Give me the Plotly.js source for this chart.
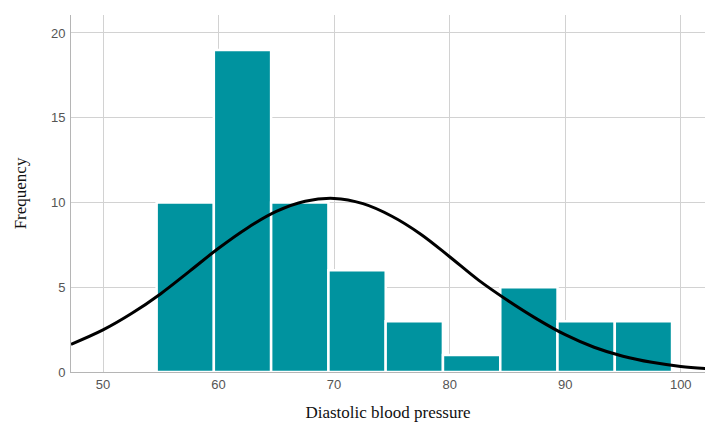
<!DOCTYPE html>
<html>
<head>
<meta charset="utf-8">
<script src="https://cdn.plot.ly/plotly-3.0.1.min.js"></script>
<style>html,body{margin:0;padding:0;background:#fff;}#chart{width:705px;height:424px;}</style>
</head>
<body>
<div id="chart"></div>
<script>
// Histogram bins (Diastolic blood pressure)
const binCenters = [57.12, 62.07, 67.03, 71.99, 76.94, 81.90, 86.86, 91.81, 96.77];
const binWidth = 4.957;
const counts = [10, 19, 10, 6, 3, 1, 5, 3, 3];

// Normal curve, values
const curveX = [47.23, 50, 52.5, 55, 57.5, 60, 62.5, 65, 67.5, 70, 72.5, 75, 77.5, 80, 82.5, 85, 87.5, 90, 92.5, 95, 97.5, 100, 102.5];
const curveY = [1.63, 2.48, 3.46, 4.62, 5.95, 7.3, 8.5, 9.47, 10.07, 10.24, 9.93, 9.19, 8.13, 6.8, 5.42, 4.23, 3.15, 2.2, 1.46, 0.93, 0.57, 0.33, 0.19];

const xTicks = [50, 60, 70, 80, 90, 100];
const yTicks = [0, 5, 10, 15, 20];

const traces = [
  {
    type: 'bar',
    x: binCenters,
    y: counts,
    width: binCenters.map(() => binWidth),
    marker: {color: '#00939f', line: {color: '#ffffff', width: 2.5}},
    hoverinfo: 'x+y',
    showlegend: false
  },
  {
    type: 'scatter',
    mode: 'lines',
    x: curveX,
    y: curveY,
    line: {color: '#000000', width: 3, shape: 'spline', smoothing: 1},
    showlegend: false,
    cliponaxis: true
  }
];

const layout = {
  width: 705,
  height: 424,
  margin: {l: 71, r: 0, t: 15, b: 52},
  paper_bgcolor: '#ffffff',
  plot_bgcolor: '#ffffff',
  showlegend: false,
  bargap: 0,
  xaxis: {
    range: [47.23, 102.1],
    tickvals: xTicks,
    ticktext: xTicks.map(String),
    showgrid: true,
    gridcolor: '#d2d2d2',
    gridwidth: 1,
    zeroline: false,
    showline: true,
    linecolor: '#b5b5b5',
    linewidth: 1,
    ticks: '',
    tickfont: {family: 'Liberation Sans, Arial, sans-serif', size: 13, color: '#555555'},
    title: {text: 'Diastolic blood pressure', font: {family: 'Liberation Serif, Times New Roman, serif', size: 17, color: '#111111'}, standoff: 15},
    fixedrange: true
  },
  yaxis: {
    range: [0, 21.06],
    tickvals: yTicks,
    ticktext: yTicks.map(String),
    showgrid: true,
    gridcolor: '#d2d2d2',
    gridwidth: 1,
    zeroline: false,
    showline: true,
    linecolor: '#b5b5b5',
    linewidth: 1,
    ticks: '',
    ticklabelstandoff: 2,
    tickfont: {family: 'Liberation Sans, Arial, sans-serif', size: 13, color: '#555555'},
    title: {text: 'Frequency', font: {family: 'Liberation Serif, Times New Roman, serif', size: 17, color: '#111111'}, standoff: 19},
    fixedrange: true
  }
};

Plotly.newPlot('chart', traces, layout, {displayModeBar: false, staticPlot: true});
</script>
</body>
</html>
